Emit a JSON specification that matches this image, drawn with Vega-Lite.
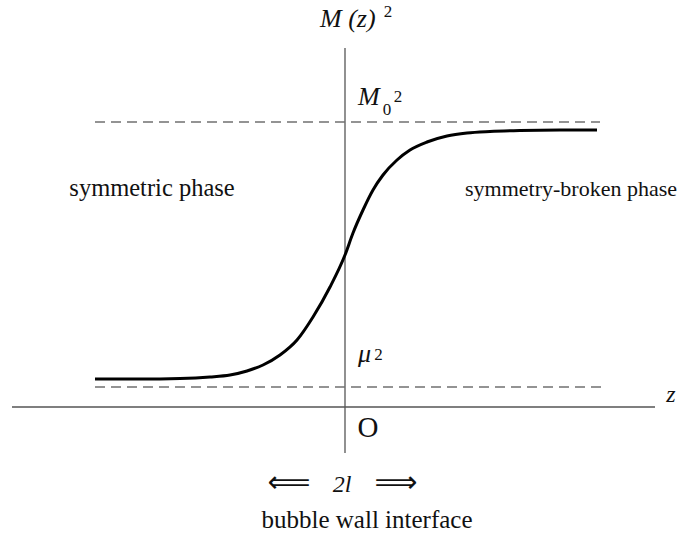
{
  "$schema": "https://vega.github.io/schema/vega-lite/v6.json",
  "width": 680,
  "height": 543,
  "padding": 0,
  "autosize": {"type": "fit", "contains": "padding"},
  "background": "white",
  "config": {"view": {"stroke": null}},
  "encoding": {
    "x": {"field": "z", "type": "quantitative", "scale": {"domain": [-3.45, 3.35], "nice": false, "zero": false}, "axis": null},
    "y": {"field": "m", "type": "quantitative", "scale": {"domain": [-1.36, 4.07], "nice": false, "zero": false}, "axis": null}
  },
  "layer": [
    {
      "data": {"values": [
        {"name": "z axis", "z": -3.33, "z2": 3.10, "m": 0, "m2": 0},
        {"name": "M axis", "z": 0, "z2": 0, "m": -0.46, "m2": 3.59}
      ]},
      "mark": {"type": "rule", "color": "#555555", "strokeWidth": 1.3},
      "encoding": {"x2": {"field": "z2"}, "y2": {"field": "m2"}}
    },
    {
      "data": {"values": [
        {"name": "M0^2", "z": -2.50, "z2": 2.55, "m": 2.85, "m2": 2.85},
        {"name": "mu^2", "z": -2.50, "z2": 2.60, "m": 0.20, "m2": 0.20}
      ]},
      "mark": {"type": "rule", "color": "#707070", "strokeWidth": 1.3, "strokeDash": [10, 6]},
      "encoding": {"x2": {"field": "z2"}, "y2": {"field": "m2"}}
    },
    {
      "data": {"values": [
        {"z": -2.50, "m": 0.28},
        {"z": -2.05, "m": 0.28},
        {"z": -1.65, "m": 0.285},
        {"z": -1.35, "m": 0.30},
        {"z": -1.15, "m": 0.32},
        {"z": -0.98, "m": 0.36},
        {"z": -0.82, "m": 0.42},
        {"z": -0.65, "m": 0.52},
        {"z": -0.48, "m": 0.67},
        {"z": -0.32, "m": 0.90},
        {"z": -0.15, "m": 1.20},
        {"z": 0.00, "m": 1.52},
        {"z": 0.08, "m": 1.74},
        {"z": 0.18, "m": 1.97},
        {"z": 0.28, "m": 2.17},
        {"z": 0.38, "m": 2.32},
        {"z": 0.52, "m": 2.47},
        {"z": 0.65, "m": 2.57},
        {"z": 0.82, "m": 2.65},
        {"z": 1.02, "m": 2.71},
        {"z": 1.22, "m": 2.74},
        {"z": 1.45, "m": 2.755},
        {"z": 1.75, "m": 2.765},
        {"z": 2.15, "m": 2.77},
        {"z": 2.52, "m": 2.77}
      ]},
      "mark": {"type": "line", "color": "#000000", "strokeWidth": 3, "interpolate": "monotone"},
      "encoding": {}
    },
    {
      "data": {"values": [
        {"label": "M (z)", "z": -0.25, "m": 3.80},
        {"label": "M", "z": 0.13, "m": 3.02},
        {"label": "μ", "z": 0.13, "m": 0.45}
      ]},
      "mark": {"type": "text", "font": "Liberation Serif", "fontStyle": "italic", "fontSize": 26, "align": "left", "baseline": "alphabetic", "color": "#111111"},
      "encoding": {"text": {"field": "label"}}
    },
    {
      "data": {"values": [
        {"label": "2", "z": 0.43, "m": 3.90},
        {"label": "2", "z": 0.53, "m": 3.05},
        {"label": "0", "z": 0.42, "m": 2.92},
        {"label": "2", "z": 0.335, "m": 0.47}
      ]},
      "mark": {"type": "text", "font": "Liberation Serif", "fontSize": 17, "align": "center", "baseline": "alphabetic", "color": "#111111"},
      "encoding": {"text": {"field": "label"}}
    },
    {
      "data": {"values": [
        {"label": "z", "z": 3.26, "m": 0.05}
      ]},
      "mark": {"type": "text", "font": "Liberation Serif", "fontStyle": "italic", "fontSize": 24, "align": "center", "baseline": "alphabetic", "color": "#111111"},
      "encoding": {"text": {"field": "label"}}
    },
    {
      "data": {"values": [
        {"label": "O", "z": 0.23, "m": -0.21}
      ]},
      "mark": {"type": "text", "font": "Liberation Serif", "fontSize": 29, "align": "center", "baseline": "middle", "color": "#111111"},
      "encoding": {"text": {"field": "label"}}
    },
    {
      "data": {"values": [
        {"label": "symmetric phase", "z": -1.93, "m": 2.11}
      ]},
      "mark": {"type": "text", "font": "Liberation Serif", "fontSize": 24.5, "align": "center", "baseline": "alphabetic", "color": "#111111"},
      "encoding": {"text": {"field": "label"}}
    },
    {
      "data": {"values": [
        {"label": "symmetry-broken phase", "z": 2.26, "m": 2.11}
      ]},
      "mark": {"type": "text", "font": "Liberation Serif", "fontSize": 22, "align": "center", "baseline": "alphabetic", "color": "#111111"},
      "encoding": {"text": {"field": "label"}}
    },
    {
      "data": {"values": [
        {"label": "⟸", "z": -0.56, "m": -0.76},
        {"label": "⟹", "z": 0.51, "m": -0.76}
      ]},
      "mark": {"type": "text", "font": "DejaVu Sans", "fontSize": 30, "align": "center", "baseline": "middle", "color": "#111111"},
      "encoding": {"text": {"field": "label"}}
    },
    {
      "data": {"values": [
        {"label": "2l", "z": -0.03, "m": -0.85}
      ]},
      "mark": {"type": "text", "font": "Liberation Serif", "fontStyle": "italic", "fontSize": 24, "align": "center", "baseline": "alphabetic", "color": "#111111"},
      "encoding": {"text": {"field": "label"}}
    },
    {
      "data": {"values": [
        {"label": "bubble wall interface", "z": 0.22, "m": -1.21}
      ]},
      "mark": {"type": "text", "font": "Liberation Serif", "fontSize": 25, "align": "center", "baseline": "alphabetic", "color": "#111111"},
      "encoding": {"text": {"field": "label"}}
    }
  ]
}
